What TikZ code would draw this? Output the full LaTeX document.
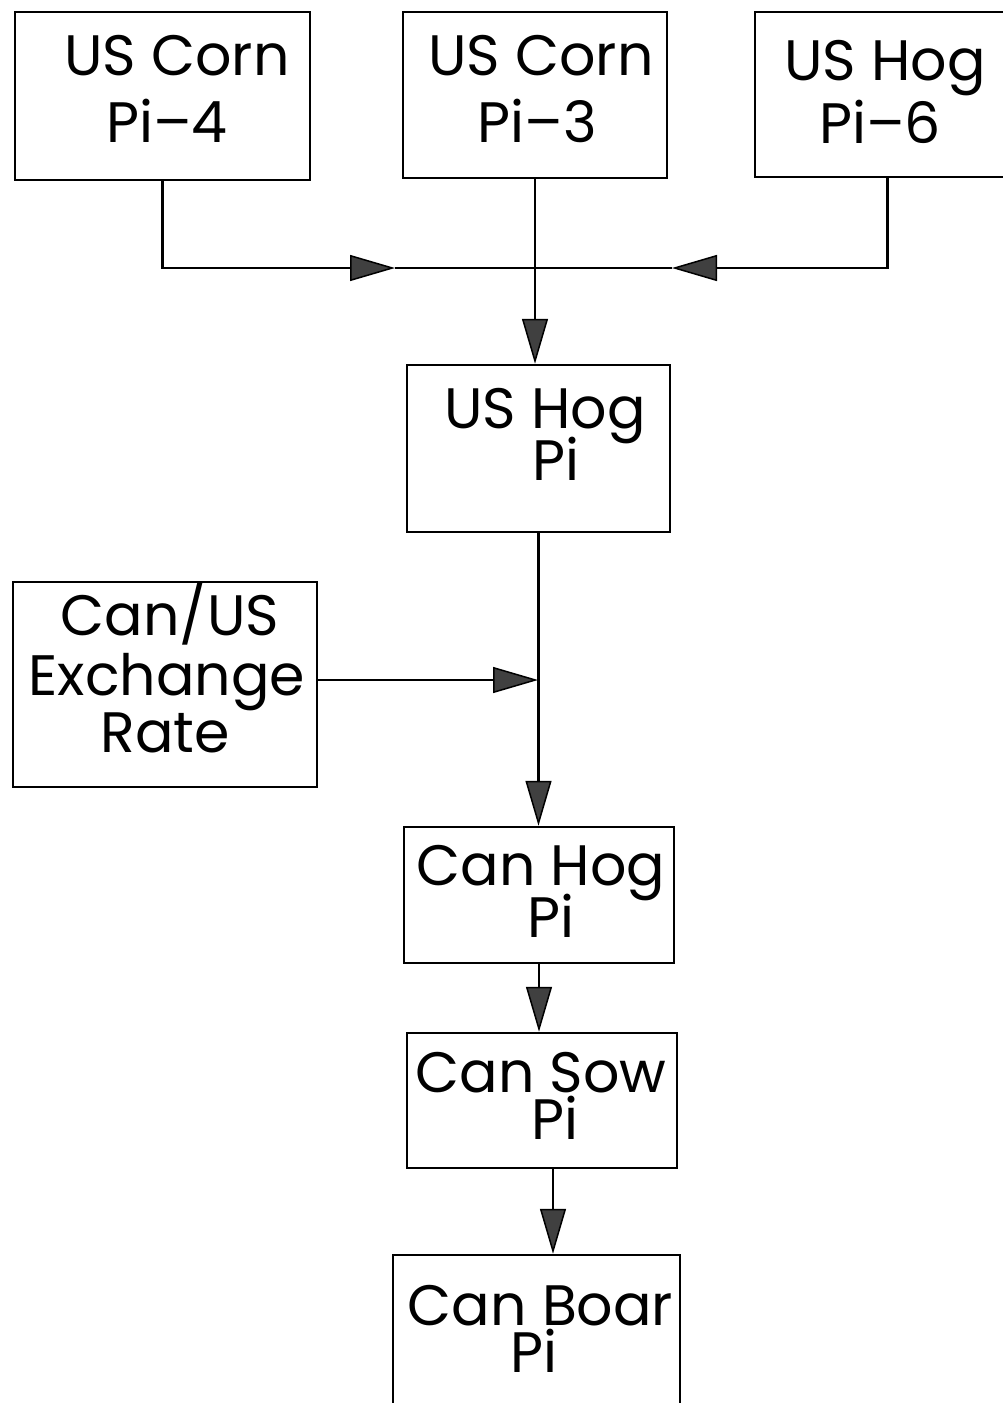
\documentclass[tikz,border=0pt]{standalone}
\usepackage{fontspec}
\setmainfont{Poppins}
\usetikzlibrary{arrows.meta}
\begin{document}
\begin{tikzpicture}[x=1pt,y=-1pt,
  box/.style={draw, line width=2.5pt, inner sep=0pt},
  txt/.style={anchor=base, inner sep=0pt, font=\fontsize{57}{60}\selectfont},
  tight/.style={align=center, inner sep=0pt, font=\fontsize{57}{47}\selectfont},
  con/.style={line width=2.6pt},
  arr/.style={con, -{Triangle[length=45pt,width=26pt,fill=black!75,line width=1.5pt]}}]
\useasboundingbox (0,0) rectangle (1003,1403);
\fill[white] (0,0) rectangle (1003,1403);
% boxes
\node[box, minimum width=295pt, minimum height=168pt] (c4) at (162.5,96) {};
\node[box, minimum width=264pt, minimum height=166pt] (c3) at (535,95) {};
\node[box, minimum width=265pt, minimum height=165pt] (h6) at (887.5,94.5) {};
\node[box, minimum width=263pt, minimum height=167pt] (uh) at (538.5,448.5) {};
\node[box, minimum width=304pt, minimum height=205pt] (ex) at (165,684.5) {};
\node[box, minimum width=270pt, minimum height=136pt] (ch) at (539,895) {};
\node[box, minimum width=270pt, minimum height=135pt] (cs) at (542,1100.5) {};
\node[box, minimum width=287pt, minimum height=165pt] (cb) at (536.5,1337.5) {};
% texts
\node[txt] (t1a) at (177,75) {US Corn};
\node[txt] (t1b) at (167,142) {Pi–4};
\node[txt] (t2a) at (541,75) {US Corn};
\node[txt] (t2b) at (537,142) {Pi–3};
\node[txt] (t3a) at (885,80) {US Hog};
\node[txt] (t3b) at (880,143) {Pi–6};
\node[txt] (t4a) at (545,428) {US Hog};
\node[txt] (t4b) at (556,480) {Pi};
\node[txt] (t5a) at (170,635) {Can/US};
\node[txt] (t5b) at (167,695) {Exchange};
\node[txt] (t5c) at (165,752) {Rate};
\node[txt] (t6a) at (541,885) {Can Hog};
\node[txt] (t6b) at (551,937) {Pi};
\node[tight] (t7) at (541,1096) {Can Sow\\\hspace*{28pt}Pi};
\node[tight] (t8) at (540.5,1329) {Can Boar\\Pi\hspace*{13pt}};
% junction coordinates
\coordinate (j) at (535,268);
\coordinate (a1) at (395,268);
\coordinate (a2) at (672,268);
\coordinate (a3) at (538,680);
% connectors
\draw[arr] (c4.south) |- (a1);
\draw[con] (a1) -- (j);
\draw[arr] (h6.south) |- (a2);
\draw[con] (a2) -- (j);
\draw[arr] (c3.south) -- (c3.south |- uh.north);
\draw[arr] (uh.south) -- (uh.south |- ch.north);
\draw[arr] (ex.east |- a3) -- (a3);
\draw[arr] (ch.south) -- (ch.south |- cs.north);
\draw[arr] ([xshift=11pt]cs.south) -- ([xshift=11pt]cs.south |- cb.north);
\end{tikzpicture}
\end{document}
